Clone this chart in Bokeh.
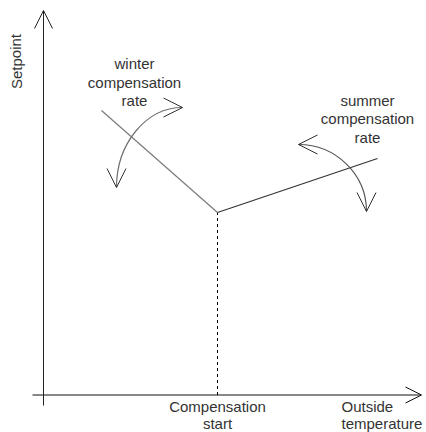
from bokeh.plotting import figure
from bokeh.models import Range1d, Arrow, OpenHead
from bokeh.core.properties import value
from bokeh.embed import file_html
from bokeh.resources import INLINE

# ---- schematic data (origin at the axes crossing, 1 unit ~ 1 px) ----
x_axis_x = [-11, 378]
x_axis_y = [0, 0]
y_axis_x = [0, 0]
y_axis_y = [-10.5, 384.5]

comp_start_x = 174
comp_start_y = 182.5

winter_x = [58, comp_start_x]
winter_y = [284.5, comp_start_y]
summer_x = [comp_start_x, 334]
summer_y = [comp_start_y, 236.5]

# curved "adjust" arrows: (start tip, end tip)
winter_arc = dict(x0=139, y0=287.5, x1=73, y1=207.5)
summer_arc = dict(x0=255, y0=250.5, x1=323, y1=183.5)

winter_label = ["winter", "compensation", "rate"]
winter_label_x = [91, 91, 91]
winter_label_y = [331.5, 312.5, 294.5]

summer_label = ["summer", "compensation", "rate"]
summer_label_x = [324, 324, 324]
summer_label_y = [294.5, 276.5, 257.5]

comp_label = ["Compensation", "start"]
comp_label_y = [-11.5, -28.5]

outside_label = ["Outside", "temperature"]
outside_label_x = [298, 298]
outside_label_y = [-11.5, -28.5]

ylabel = "Setpoint"
ylabel_x = -27.5
ylabel_y = 333.5

FONT = value("Liberation Sans")
TXT = "#333333"

p = figure(width=426, height=432, output_backend="svg", toolbar_location=None,
           x_range=Range1d(-43, 383), y_range=Range1d(-37.5, 394.5),
           x_axis_location=None, y_axis_location=None, min_border=0,
           outline_line_color=None)
p.grid.visible = False

# axes with arrow heads
p.add_layout(Arrow(x_start=x_axis_x[0], y_start=x_axis_y[0], x_end=x_axis_x[1], y_end=x_axis_y[1],
                   line_color="#111111", line_width=1,
                   end=OpenHead(size=16, line_color="#111111", line_width=1)))
p.add_layout(Arrow(x_start=y_axis_x[0], y_start=y_axis_y[0], x_end=y_axis_x[1], y_end=y_axis_y[1],
                   line_color="#222222", line_width=1,
                   end=OpenHead(size=18, line_color="#222222", line_width=1)))

# dashed compensation start
p.line([comp_start_x, comp_start_x], [0, comp_start_y], line_color="#000000",
       line_width=1, line_dash="3 3")

# compensation rate lines
p.line(winter_x, winter_y, line_color="#7a7a7a", line_width=1.2)
p.line(summer_x, summer_y, line_color="#333333", line_width=1.2)

# curved double arrows
k = 0.55
for arc, col in ((winter_arc, "#707070"), (summer_arc, "#555555")):
    cx, cy = arc["x1"], arc["y0"]  # tangent corner
    p.bezier(x0=[arc["x0"]], y0=[arc["y0"]], x1=[arc["x1"]], y1=[arc["y1"]],
             cx0=[arc["x0"] + k * (cx - arc["x0"])], cy0=[arc["y0"]],
             cx1=[arc["x1"]], cy1=[arc["y1"] + k * (cy - arc["y1"])],
             line_color=col, line_width=1.2)
    d = 1 if arc["x0"] > cx else -1
    p.add_layout(Arrow(x_start=arc["x0"] - d, y_start=arc["y0"], x_end=arc["x0"], y_end=arc["y0"],
                       line_alpha=0,
                       end=OpenHead(size=19, line_color="#333333", line_width=1)))
    p.add_layout(Arrow(x_start=arc["x1"], y_start=arc["y1"] + 1, x_end=arc["x1"], y_end=arc["y1"],
                       line_alpha=0,
                       end=OpenHead(size=19, line_color="#333333", line_width=1)))

# texts
p.text(x=winter_label_x, y=winter_label_y, text=winter_label, text_align="center",
       text_baseline="middle", text_font=FONT, text_font_size="15px", text_color=TXT)
p.text(x=summer_label_x, y=summer_label_y, text=summer_label, text_align="center",
       text_baseline="middle", text_font=FONT, text_font_size="15px", text_color=TXT)
p.text(x=[comp_start_x, comp_start_x], y=comp_label_y, text=comp_label, text_align="center",
       text_baseline="middle", text_font=FONT, text_font_size="15px", text_color=TXT)
p.text(x=outside_label_x, y=outside_label_y, text=outside_label, text_align="left",
       text_baseline="middle", text_font=FONT, text_font_size="15px", text_color=TXT)
p.text(x=[ylabel_x], y=[ylabel_y], text=[ylabel], angle=1.5708, text_align="center",
       text_baseline="middle", text_font=FONT, text_font_size="15px", text_color=TXT)

open("out.html", "w").write(file_html(p, INLINE))
